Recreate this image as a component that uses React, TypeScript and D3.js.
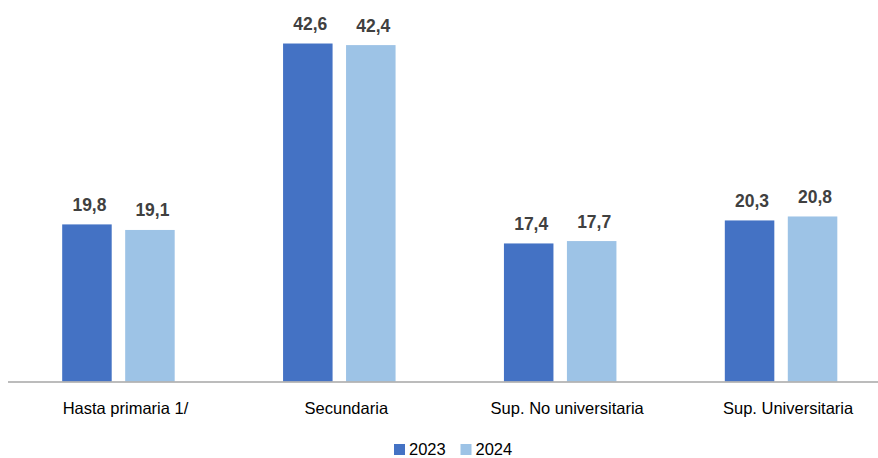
import React from 'react';
import { select, scaleBand, scaleLinear, axisBottom } from 'd3';

const categories = ['Hasta primaria 1/', 'Secundaria', 'Sup. No universitaria', 'Sup. Universitaria'];
const seriesNames = ['2023', '2024'];
const values2023 = [19.8, 42.6, 17.4, 20.3];
const values2024 = [19.1, 42.4, 17.7, 20.8];
const seriesColors = ['#4472C4', '#9DC3E6'];

const W = 878;
const H = 458;
const FONT = '"Liberation Sans", Arial, sans-serif';

const App: React.FC = () => {
  const svgRef = React.useRef<SVGSVGElement>(null);

  React.useEffect(() => {
    const svg = select(svgRef.current);
    svg.selectAll('*').remove();

    const rows = categories.map((c, i) => ({
      cat: c,
      vals: [values2023[i], values2024[i]],
    }));

    const x0 = scaleBand<string>().domain(categories).range([8, 891.5]);
    const x1 = scaleBand<string>()
      .domain(seriesNames)
      .range([0, 112.5])
      .paddingInner(0.214);
    const y = scaleLinear().domain([0, 45]).range([381.5, 381.5 - 45 * 7.934]);

    const groups = svg
      .selectAll('.grp')
      .data(rows)
      .join('g')
      .attr('class', 'grp')
      .attr('transform', d => `translate(${(x0(d.cat) as number) + x0.bandwidth() / 2 - 56.25},0)`);

    groups
      .selectAll('rect')
      .data(d => d.vals.map((v, i) => ({ v, s: seriesNames[i], i })))
      .join('rect')
      .attr('x', d => x1(d.s) as number)
      .attr('y', d => y(d.v))
      .attr('width', x1.bandwidth())
      .attr('height', d => y(0) - y(d.v))
      .attr('fill', d => seriesColors[d.i]);

    groups
      .selectAll('text.val')
      .data(d => d.vals.map((v, i) => ({ v, s: seriesNames[i] })))
      .join('text')
      .attr('class', 'val')
      .attr('x', d => (x1(d.s) as number) + x1.bandwidth() / 2 + 2.5)
      .attr('y', d => y(d.v) - 13.5)
      .attr('text-anchor', 'middle')
      .attr('font-family', FONT)
      .attr('font-weight', 'bold')
      .attr('font-size', 17.5)
      .attr('fill', '#404040')
      .text(d => d.v.toFixed(1).replace('.', ','));

    // category axis
    const axis = axisBottom(x0).tickSize(0).tickPadding(0);
    const ax = svg.append('g').attr('transform', `translate(0,${y(0)})`).call(axis as any);
    ax.select('.domain').remove();
    ax.selectAll('text')
      .attr('dy', 0)
      .attr('y', 32.5)
      .attr('dx', 7)
      .attr('font-family', FONT)
      .attr('font-size', 16.5)
      .attr('fill', '#000');

    svg
      .append('line')
      .attr('x1', 8)
      .attr('x2', W)
      .attr('y1', y(0) + 0.5)
      .attr('y2', y(0) + 0.5)
      .attr('stroke', '#a6a6a6')
      .attr('stroke-width', 1.5);

    // legend
    const legendX = [394, 460.5];
    const leg = svg
      .selectAll('.leg')
      .data(seriesNames)
      .join('g')
      .attr('class', 'leg')
      .attr('transform', (_, i) => `translate(${legendX[i]},444)`);
    leg
      .append('rect')
      .attr('width', 11)
      .attr('height', 11)
      .attr('fill', (_, i) => seriesColors[i]);
    leg
      .append('text')
      .attr('x', 15)
      .attr('y', 11.3)
      .attr('font-family', FONT)
      .attr('font-size', 16.5)
      .attr('fill', '#000')
      .text(d => d);
  }, []);

  return (
    <svg
      ref={svgRef}
      width={W}
      height={H}
      style={{ position: 'absolute', left: 0, top: 0, background: '#fff' }}
    />
  );
};

export default App;
